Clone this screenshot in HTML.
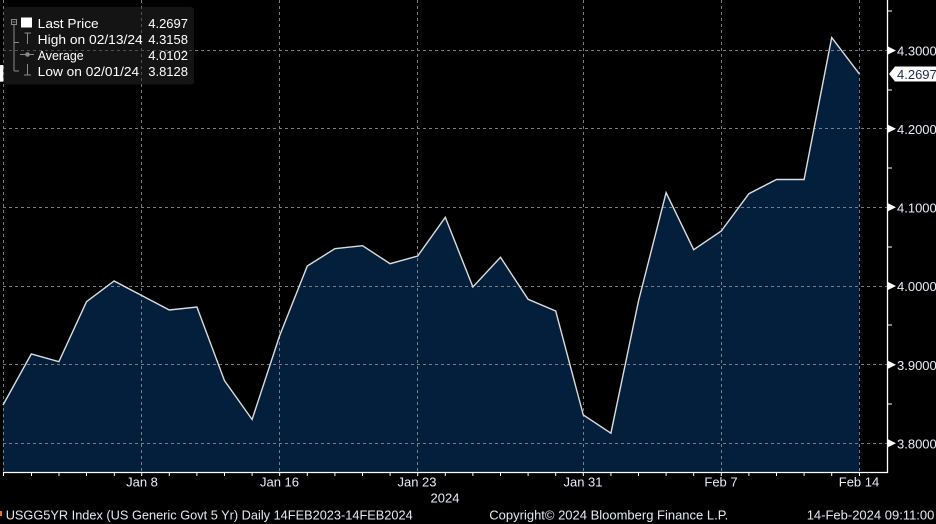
<!DOCTYPE html>
<html>
<head>
<meta charset="utf-8">
<style>
  html,body{margin:0;padding:0;background:#000;}
  body{width:936px;height:524px;overflow:hidden;}
  svg{display:block;}
  text{font-family:"Liberation Sans",sans-serif;}
</style>
</head>
<body>
<svg width="936" height="524" viewBox="0 0 936 524" xmlns="http://www.w3.org/2000/svg">
  <rect x="0" y="0" width="936" height="524" fill="#000"/>

  <!-- area fill -->
  <polygon fill="#031f3b" points="3,472 3,405 31.3,354 58.9,361.7 86.5,301.7 114.1,281 141.7,295.5 169.3,310 196.9,307 224.5,380.7 252.1,419.5 279.7,335.5 307.3,266 334.9,248.7 362.5,245.7 390.1,263.7 417.7,256 445.3,217.3 472.9,287 500.5,257.3 528.1,299.3 555.7,311 583.3,415 610.9,433.2 638.5,301 666.1,192.7 693.7,249.7 721.3,231 748.9,193.7 776.5,179.5 804.1,179.5 831.7,37.6 859.3,73.8 859.3,472"/>

  <!-- grid -->
  <g stroke="#8b919c" stroke-width="1" stroke-dasharray="3,3" fill="none" opacity="0.85">
    <line x1="3.5" y1="0" x2="3.5" y2="472"/>
    <line x1="141.5" y1="0" x2="141.5" y2="472"/>
    <line x1="279.5" y1="0" x2="279.5" y2="472"/>
    <line x1="417.5" y1="0" x2="417.5" y2="472"/>
    <line x1="583.5" y1="0" x2="583.5" y2="472"/>
    <line x1="721.5" y1="0" x2="721.5" y2="472"/>
    <line x1="859.5" y1="0" x2="859.5" y2="472"/>
    <line x1="3" y1="50.5" x2="887" y2="50.5"/>
    <line x1="3" y1="128.5" x2="887" y2="128.5"/>
    <line x1="3" y1="207.5" x2="887" y2="207.5"/>
    <line x1="3" y1="286.5" x2="887" y2="286.5"/>
    <line x1="3" y1="364.5" x2="887" y2="364.5"/>
    <line x1="3" y1="443.5" x2="887" y2="443.5"/>
  </g>

  <!-- price line -->
  <polyline fill="none" stroke="#dcdcdc" stroke-width="1.4" stroke-linejoin="miter" points="3,405 31.3,354 58.9,361.7 86.5,301.7 114.1,281 141.7,295.5 169.3,310 196.9,307 224.5,380.7 252.1,419.5 279.7,335.5 307.3,266 334.9,248.7 362.5,245.7 390.1,263.7 417.7,256 445.3,217.3 472.9,287 500.5,257.3 528.1,299.3 555.7,311 583.3,415 610.9,433.2 638.5,301 666.1,192.7 693.7,249.7 721.3,231 748.9,193.7 776.5,179.5 804.1,179.5 831.7,37.6 859.3,73.8"/>

  <!-- axes -->
  <line x1="887.5" y1="0" x2="887.5" y2="473" stroke="#fff" stroke-width="1.3"/>
  <line x1="3" y1="472.5" x2="888" y2="472.5" stroke="#fff" stroke-width="1.3"/>

  <!-- bottom ticks -->
  <g stroke="#fff" stroke-width="1">
    <line x1="3.5" y1="472" x2="3.5" y2="476"/>
    <line x1="31.5" y1="472" x2="31.5" y2="476"/>
    <line x1="59" y1="472" x2="59" y2="476"/>
    <line x1="86.5" y1="472" x2="86.5" y2="476"/>
    <line x1="114.3" y1="472" x2="114.3" y2="476"/>
    <line x1="141.7" y1="472" x2="141.7" y2="476"/>
    <line x1="169.3" y1="472" x2="169.3" y2="476"/>
    <line x1="196.9" y1="472" x2="196.9" y2="476"/>
    <line x1="224.5" y1="472" x2="224.5" y2="476"/>
    <line x1="252.1" y1="472" x2="252.1" y2="476"/>
    <line x1="279.7" y1="472" x2="279.7" y2="476"/>
    <line x1="307.3" y1="472" x2="307.3" y2="476"/>
    <line x1="334.9" y1="472" x2="334.9" y2="476"/>
    <line x1="362.5" y1="472" x2="362.5" y2="476"/>
    <line x1="390.1" y1="472" x2="390.1" y2="476"/>
    <line x1="417.7" y1="472" x2="417.7" y2="476"/>
    <line x1="445.3" y1="472" x2="445.3" y2="476"/>
    <line x1="472.9" y1="472" x2="472.9" y2="476"/>
    <line x1="500.5" y1="472" x2="500.5" y2="476"/>
    <line x1="528.1" y1="472" x2="528.1" y2="476"/>
    <line x1="555.7" y1="472" x2="555.7" y2="476"/>
    <line x1="583.3" y1="472" x2="583.3" y2="476"/>
    <line x1="610.9" y1="472" x2="610.9" y2="476"/>
    <line x1="638.5" y1="472" x2="638.5" y2="476"/>
    <line x1="666.1" y1="472" x2="666.1" y2="476"/>
    <line x1="693.7" y1="472" x2="693.7" y2="476"/>
    <line x1="721.3" y1="472" x2="721.3" y2="476"/>
    <line x1="748.9" y1="472" x2="748.9" y2="476"/>
    <line x1="776.5" y1="472" x2="776.5" y2="476"/>
    <line x1="804.1" y1="472" x2="804.1" y2="476"/>
    <line x1="831.7" y1="472" x2="831.7" y2="476"/>
    <line x1="859.5" y1="472" x2="859.5" y2="476"/>
  </g>

  <!-- right axis minor ticks -->
  <g stroke="#fff" stroke-width="1">
    <line x1="887" y1="11" x2="892" y2="11"/>
    <line x1="887" y1="90" x2="892" y2="90"/>
    <line x1="887" y1="168" x2="892" y2="168"/>
    <line x1="887" y1="247" x2="892" y2="247"/>
    <line x1="887" y1="325" x2="892" y2="325"/>
    <line x1="887" y1="404" x2="892" y2="404"/>
  </g>

  <!-- right axis major markers + labels -->
  <g fill="#fff">
    <polygon points="888,46.5 896,50.5 888,54.5"/>
    <polygon points="888,124.7 896,128.7 888,132.7"/>
    <polygon points="888,203.3 896,207.3 888,211.3"/>
    <polygon points="888,282 896,286 888,290"/>
    <polygon points="888,360.7 896,364.7 888,368.7"/>
    <polygon points="888,439.3 896,443.3 888,447.3"/>
  </g>
  <g fill="#e6ecf7" font-size="13">
    <text x="897" y="55.5">4.3000</text>
    <text x="897" y="134">4.2000</text>
    <text x="897" y="212.5">4.1000</text>
    <text x="897" y="291">4.0000</text>
    <text x="897" y="370">3.9000</text>
    <text x="897" y="448.5">3.8000</text>
  </g>

  <!-- last price tag -->
  <polygon fill="#fff" points="889,74 895,66.5 936,66.5 936,81.5 895,81.5"/>
  <text x="897" y="79" font-size="13" fill="#1c2a48">4.2697</text>

  <!-- x axis labels -->
  <g fill="#e6ecf7" font-size="13" text-anchor="middle">
    <text x="142" y="486.5">Jan 8</text>
    <text x="279.5" y="486.5">Jan 16</text>
    <text x="417" y="486.5">Jan 23</text>
    <text x="583" y="486.5">Jan 31</text>
    <text x="721" y="486.5">Feb 7</text>
    <text x="859" y="486.5">Feb 14</text>
    <text x="445" y="502.5">2024</text>
  </g>

  <!-- footer -->
  <rect x="0" y="511" width="2" height="5" fill="#e07a1a"/>
  <g fill="#e2e8f2" font-size="13">
    <text x="5.7" y="519.5" textLength="407" lengthAdjust="spacingAndGlyphs">USGG5YR Index (US Generic Govt 5 Yr)  Daily 14FEB2023-14FEB2024</text>
    <text x="489.3" y="519.5" textLength="239" lengthAdjust="spacingAndGlyphs">Copyright© 2024 Bloomberg Finance L.P.</text>
    <text x="806.7" y="519.5">14-Feb-2024 09:11:00</text>
  </g>

  <!-- left marker -->
  <rect x="0" y="65" width="3.3" height="16.7" fill="#fff"/>

  <!-- legend -->
  <rect x="3.5" y="7" width="190.5" height="77.5" rx="3" ry="3" fill="rgb(40,40,40)" fill-opacity="0.5"/>
  <g stroke="#8a8a8a" stroke-width="1" fill="none">
    <rect x="11.5" y="19.5" width="5" height="5"/>
    <line x1="12.5" y1="22" x2="15.5" y2="22"/>
    <line x1="14" y1="25" x2="14" y2="71"/>
    <line x1="14" y1="42.5" x2="19" y2="42.5"/>
    <line x1="14" y1="71" x2="19" y2="71"/>
    <!-- high icon -->
    <line x1="24.5" y1="33" x2="31" y2="33"/>
    <line x1="27.5" y1="33" x2="27.5" y2="44"/>
    <!-- average icon -->
    <line x1="20" y1="54.5" x2="34" y2="54.5"/>
    <circle cx="27.5" cy="54.5" r="1.8" fill="#8a8a8a"/>
    <!-- low icon -->
    <line x1="27.5" y1="64" x2="27.5" y2="75"/>
    <line x1="24" y1="75" x2="31" y2="75"/>
  </g>
  <rect x="21" y="17.5" width="11" height="10" fill="#fff"/>
  <g fill="#fff" font-size="13">
    <text x="37.7" y="28" textLength="61" lengthAdjust="spacingAndGlyphs">Last Price</text>
    <text x="37.7" y="44" textLength="105" lengthAdjust="spacingAndGlyphs">High on 02/13/24</text>
    <text x="37.7" y="60" textLength="46" lengthAdjust="spacingAndGlyphs">Average</text>
    <text x="37.7" y="76" textLength="101.5" lengthAdjust="spacingAndGlyphs">Low on 02/01/24</text>
  </g>
  <g fill="#fff" font-size="13" text-anchor="end">
    <text x="188" y="28">4.2697</text>
    <text x="188" y="44">4.3158</text>
    <text x="188" y="60">4.0102</text>
    <text x="188" y="76">3.8128</text>
  </g>
</svg>
</body>
</html>
